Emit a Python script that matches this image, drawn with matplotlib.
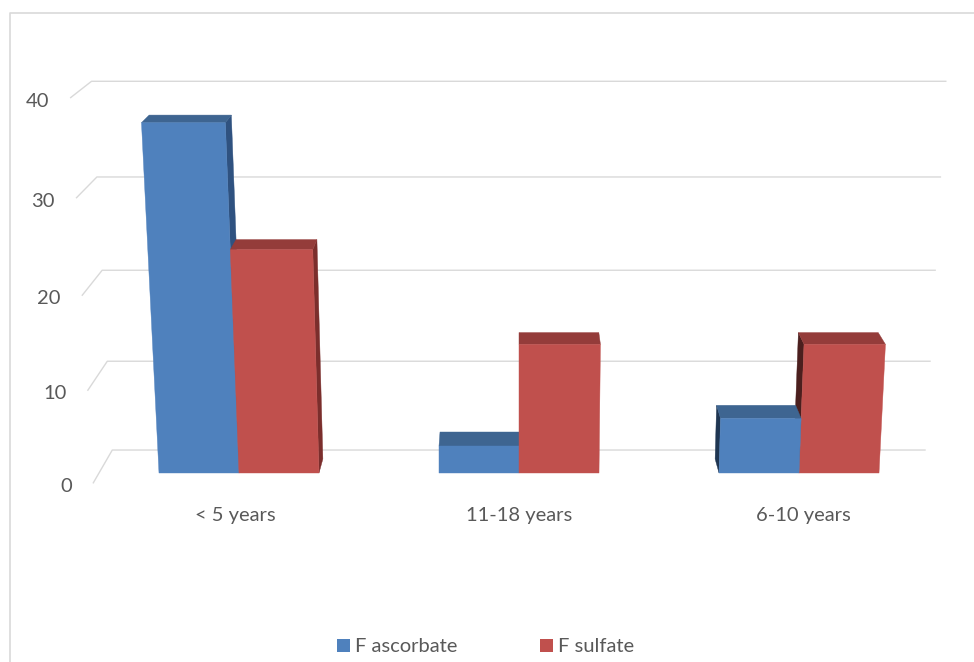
import math
import matplotlib
matplotlib.use("Agg")
import matplotlib.pyplot as plt
from matplotlib.patches import Polygon, Patch

plt.rcParams["font.family"] = ["Lato", "DejaVu Sans"]

# ---- data ----
categories = ["< 5 years", "11-18 years", "6-10 years"]
series_names = ["F ascorbate", "F sulfate"]
f_ascorbate = [37, 3, 6]
f_sulfate = [24, 14, 14]
y_ticks = [0, 10, 20, 30, 40]

# ---- styling ----
TEXT = "#595959"
GRID = "#D9D9D9"
FACE = {
    "F ascorbate": dict(front="#4F81BD", top="#3E6591", right="#2F5280", left="#1F3652"),
    "F sulfate": dict(front="#C0504D", top="#943C3A", right="#7B2E2C", left="#4B1F1E"),
}
FONT_SIZE = 14.5

# ---- 3-D scene geometry (world units) ----
GROUP = 280.0       # distance between category centres
BAR_W = 80.0        # bar width
BAR_D = 40.5        # bar depth
VAL_SCALE = 9.6     # world height per value unit
WALL_Z = 67.0       # back wall depth
FLOOR_FRONT_Z = -29.0
HALF_FLOOR = 1.5 * GROUP

# simple pinhole camera looking slightly down at the plot
PITCH = math.radians(15)
CAM_H = 701.0
CAM_DIST = 1862.0
FOCAL = 1980.0
CX, CY = 519.0, 277.8


def project(x, v, z):
    """Project a scene point (x, value, depth) onto the canvas."""
    dy = v * VAL_SCALE - CAM_H
    dz = z + CAM_DIST
    zc = -dy * math.sin(PITCH) + dz * math.cos(PITCH)
    yc = dy * math.cos(PITCH) + dz * math.sin(PITCH)
    return CX + FOCAL * x / zc, CY - FOCAL * yc / zc


W, H = 974, 662
fig = plt.figure(figsize=(W / 100, H / 100), dpi=100)
ax = fig.add_axes([0, 0, 1, 1])
ax.set_xlim(0, W)
ax.set_ylim(H, 0)
ax.axis("off")

# chart area border
ax.plot([10, 10, W + 5], [H + 5, 12.5, 12.5], color=GRID, lw=1.2, zorder=1)

# gridlines on back wall and left side wall, plus value labels
for t in y_ticks:
    bl = project(-HALF_FLOOR, t, WALL_Z)
    br = project(HALF_FLOOR, t, WALL_Z)
    fl = project(-HALF_FLOOR, t, FLOOR_FRONT_Z)
    ax.plot([fl[0], bl[0], br[0]], [fl[1], bl[1], br[1]], color=GRID, lw=1.0,
            solid_capstyle="butt", zorder=2)
    ax.text(fl[0] - 21, fl[1] + 3, f"{t}", ha="right", va="center",
            fontsize=FONT_SIZE, color=TEXT)

# category labels under the floor front edge
for i, cat in enumerate(categories):
    xc = (i - 1) * GROUP
    px, py = project(xc, 0, FLOOR_FRONT_Z)
    ax.text(px, py + 32, cat, ha="center", va="center", fontsize=FONT_SIZE, color=TEXT)


def face(pts, color, z):
    poly = Polygon([project(*p) for p in pts], closed=True, facecolor=color,
                   edgecolor=color, lw=0.3, zorder=z)
    ax.add_patch(poly)


# build bars, paint the ones farthest from the view axis first
bars = []
for i in range(len(categories)):
    xc = (i - 1) * GROUP
    bars.append((xc - BAR_W, xc, f_ascorbate[i], "F ascorbate"))
    bars.append((xc, xc + BAR_W, f_sulfate[i], "F sulfate"))
bars.sort(key=lambda b: -abs((b[0] + b[1]) / 2))

z = 5
for x0, x1, v, name in bars:
    c = FACE[name]
    if x1 < -1e-6:
        face([(x1, 0, 0), (x1, 0, BAR_D), (x1, v, BAR_D), (x1, v, 0)], c["right"], z)
    if x0 > 1e-6:
        face([(x0, 0, 0), (x0, 0, BAR_D), (x0, v, BAR_D), (x0, v, 0)], c["left"], z)
    face([(x0, v, 0), (x1, v, 0), (x1, v, BAR_D), (x0, v, BAR_D)], c["top"], z + 0.1)
    face([(x0, 0, 0), (x1, 0, 0), (x1, v, 0), (x0, v, 0)], c["front"], z + 0.2)
    z += 1

# legend
handles = [Patch(facecolor=FACE[n]["front"], edgecolor="none") for n in series_names]
fig.legend(handles, series_names, loc="center left",
           bbox_to_anchor=(337 / W, 1 - 647 / H), ncol=2, frameon=False,
           borderpad=0, borderaxespad=0, handlelength=0.65, handleheight=0.65,
           handletextpad=0.25, columnspacing=4.1, fontsize=FONT_SIZE,
           labelcolor=TEXT)

fig.savefig("out.png", dpi=100)
